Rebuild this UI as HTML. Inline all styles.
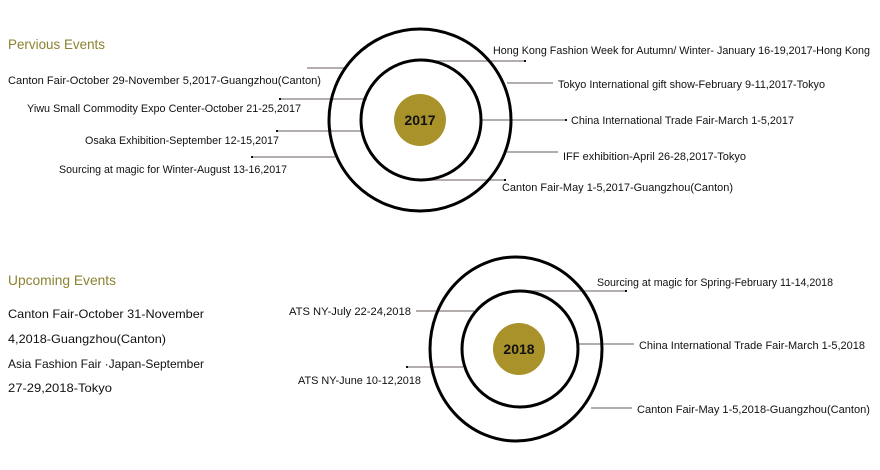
<!DOCTYPE html>
<html><head><meta charset="utf-8"><style>
html,body{margin:0;padding:0;background:#fff}
svg{display:block}
text{font-family:"Liberation Sans",sans-serif;fill:#111}
</style></head><body>
<svg width="880" height="470" viewBox="0 0 880 470" xmlns="http://www.w3.org/2000/svg">
<g font-size="11" lengthAdjust="spacingAndGlyphs">
<text x="8" y="49" font-size="14" style="fill:#8c8232" textLength="97" lengthAdjust="spacingAndGlyphs">Pervious Events</text>
<text x="8" y="285" font-size="14" style="fill:#8c8232" textLength="108" lengthAdjust="spacingAndGlyphs">Upcoming Events</text>
</g>
<g stroke="#9a9490" stroke-width="1.5">
<line x1="307" y1="68" x2="347" y2="68"/>
<line x1="280" y1="99" x2="367" y2="99"/>
<line x1="277" y1="131" x2="363" y2="131"/>
<line x1="252" y1="157" x2="335" y2="157"/>
<line x1="425" y1="61" x2="525" y2="61"/>
<line x1="507" y1="83" x2="553" y2="83"/>
<line x1="480" y1="120" x2="566" y2="120"/>
<line x1="507" y1="152" x2="558" y2="152"/>
<line x1="420" y1="180" x2="505" y2="180"/>
<line x1="527" y1="291" x2="626" y2="291"/>
<line x1="416" y1="311" x2="474" y2="311"/>
<line x1="578" y1="344" x2="634" y2="344"/>
<line x1="407" y1="367" x2="463" y2="367"/>
<line x1="591" y1="408" x2="632" y2="408"/>
</g>
<g fill="#111">
<rect x="279" y="98" width="2" height="2"/><rect x="276" y="130" width="2" height="2"/><rect x="251" y="156" width="2" height="2"/>
<rect x="524" y="60" width="2" height="2"/><rect x="565" y="119" width="2" height="2"/><rect x="504" y="179" width="2" height="2"/>
<rect x="625" y="290" width="2" height="2"/><rect x="406" y="366" width="2" height="2"/>
</g>
<g fill="none" stroke="#000" stroke-width="3">
<circle cx="420" cy="120" r="91"/>
<circle cx="421" cy="120" r="60"/>
<ellipse cx="516" cy="349" rx="86" ry="92"/>
<circle cx="520" cy="349" r="58"/>
</g>
<circle cx="420" cy="120" r="26" fill="#a89229"/>
<circle cx="519" cy="349" r="26" fill="#a89229"/>
<text x="420" y="125" font-size="14" font-weight="bold" text-anchor="middle">2017</text>
<text x="519" y="354" font-size="14" font-weight="bold" text-anchor="middle">2018</text>
<g font-size="11">
<text x="8" y="84" textLength="313" lengthAdjust="spacingAndGlyphs">Canton Fair-October 29-November 5,2017-Guangzhou(Canton)</text>
<text x="27" y="112" textLength="274" lengthAdjust="spacingAndGlyphs">Yiwu Small Commodity Expo Center-October 21-25,2017</text>
<text x="85" y="144" textLength="194" lengthAdjust="spacingAndGlyphs">Osaka Exhibition-September 12-15,2017</text>
<text x="59" y="173" textLength="228" lengthAdjust="spacingAndGlyphs">Sourcing at magic for Winter-August 13-16,2017</text>
<text x="493" y="54" textLength="377" lengthAdjust="spacingAndGlyphs">Hong Kong Fashion Week for Autumn/ Winter- January 16-19,2017-Hong Kong</text>
<text x="558" y="88" textLength="267" lengthAdjust="spacingAndGlyphs">Tokyo International gift show-February 9-11,2017-Tokyo</text>
<text x="571" y="124" textLength="223" lengthAdjust="spacingAndGlyphs">China International Trade Fair-March 1-5,2017</text>
<text x="563" y="160" textLength="183" lengthAdjust="spacingAndGlyphs">IFF exhibition-April 26-28,2017-Tokyo</text>
<text x="502" y="191" textLength="231" lengthAdjust="spacingAndGlyphs">Canton Fair-May 1-5,2017-Guangzhou(Canton)</text>
<text x="597" y="286" textLength="236" lengthAdjust="spacingAndGlyphs">Sourcing at magic for Spring-February 11-14,2018</text>
<text x="289" y="315" textLength="122" lengthAdjust="spacingAndGlyphs">ATS NY-July 22-24,2018</text>
<text x="639" y="349" textLength="226" lengthAdjust="spacingAndGlyphs">China International Trade Fair-March 1-5,2018</text>
<text x="298" y="384" textLength="123" lengthAdjust="spacingAndGlyphs">ATS NY-June 10-12,2018</text>
<text x="637" y="413" textLength="233" lengthAdjust="spacingAndGlyphs">Canton Fair-May 1-5,2018-Guangzhou(Canton)</text>
</g>
<g font-size="12">
<text x="8" y="318" textLength="196" lengthAdjust="spacingAndGlyphs">Canton Fair-October 31-November</text>
<text x="8" y="343" textLength="158" lengthAdjust="spacingAndGlyphs">4,2018-Guangzhou(Canton)</text>
<text x="8" y="368" textLength="196" lengthAdjust="spacingAndGlyphs">Asia Fashion Fair ·Japan-September</text>
<text x="8" y="392" textLength="104" lengthAdjust="spacingAndGlyphs">27-29,2018-Tokyo</text>
</g>
</svg>
</body></html>
